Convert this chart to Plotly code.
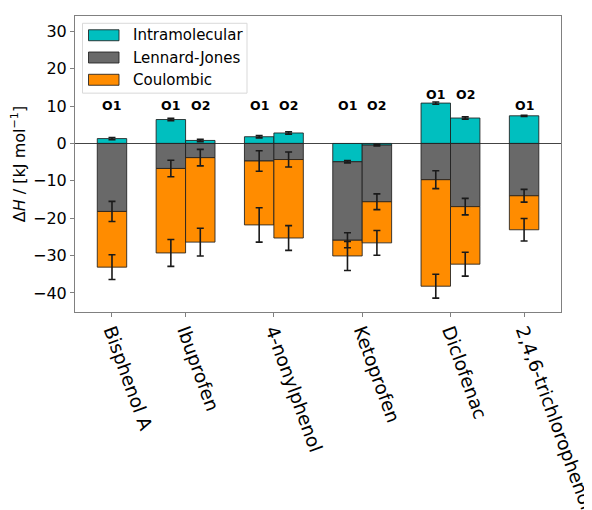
import plotly.graph_objects as go

# ---------------- data ----------------
compounds = ["Bisphenol A", "Ibuprofen", "4-nonylphenol", "Ketoprofen",
             "Diclofenac", "2,4,6-trichlorophenol"]
bar_compound = [0, 1, 1, 2, 2, 3, 3, 4, 4, 5]
bar_site = ["O1", "O1", "O2", "O1", "O2", "O1", "O2", "O1", "O2", "O1"]
series_names = ["Intramolecular", "Lennard-Jones", "Coulombic"]

intra = [1.3, 6.4, 0.8, 1.8, 2.8, -4.9, -0.45, 10.8, 6.8, 7.4]
intra_err = [0.3, 0.3, 0.3, 0.3, 0.3, 0.3, 0.2, 0.3, 0.3, 0.15]
lj = [-18.2, -6.7, -3.8, -4.7, -4.3, -21.0, -15.15, -9.7, -16.9, -14.0]
lj_err = [2.7, 2.2, 2.2, 2.75, 2.0, 2.0, 2.1, 2.4, 2.2, 1.7]
coul = [-14.9, -22.6, -22.6, -17.1, -21.0, -4.2, -11.0, -28.5, -15.4, -9.1]
coul_err = [3.3, 3.6, 3.7, 4.6, 3.3, 3.9, 3.3, 3.2, 3.2, 3.0]

# ---------------- layout helpers ----------------
W = 1 / 3  # bar width
group_shift = [1, 0, 0, 0, 0, 0]  # slot shift per compound (layout)
slot = {"O1": 0, "O2": 1}
xpos = [bar_compound[i] + (slot[bar_site[i]] + group_shift[bar_compound[i]]) * W
        for i in range(len(bar_site))]
tickpos = []
for c in range(len(compounds)):
    xs = [xpos[i] for i in range(len(xpos)) if bar_compound[i] == c]
    tickpos.append(sum(xs) / len(xs))

colors = ["#00BFBF", "#696969", "#FF8C00"]
FONT = "DejaVu Sans"
EDGE = "rgba(30,30,30,0.85)"

lj_base = [min(v, 0) for v in intra]
lj_end = [b + v for b, v in zip(lj_base, lj)]
coul_end = [b + v for b, v in zip(lj_end, coul)]

fig = go.Figure()
common = dict(width=W, marker_line_color=EDGE, marker_line_width=1, showlegend=False)
fig.add_trace(go.Bar(x=xpos, y=intra, base=[0] * len(intra), name=series_names[0],
                     marker_color=colors[0], **common))
fig.add_trace(go.Bar(x=xpos, y=lj, base=lj_base, name=series_names[1],
                     marker_color=colors[1], **common))
fig.add_trace(go.Bar(x=xpos, y=coul, base=lj_end, name=series_names[2],
                     marker_color=colors[2], **common))

err_style = dict(type="data", visible=True, color="#1a1a1a", thickness=1.6, width=3.5)
for yy, ee in ((intra, intra_err), (lj_end, lj_err), (coul_end, coul_err)):
    fig.add_trace(go.Scatter(x=xpos, y=yy, mode="markers",
                             marker=dict(size=1, color="rgba(0,0,0,0)"),
                             error_y=dict(array=ee, **err_style),
                             showlegend=False, hoverinfo="skip"))

# O1 / O2 labels
group_top = {}
for i, c in enumerate(bar_compound):
    group_top[c] = max(group_top.get(c, -1e9), intra[i])
for i, c in enumerate(bar_compound):
    fig.add_annotation(x=xpos[i], y=max(10.2, group_top[c] + 2.35),
                       text="<b>" + bar_site[i] + "</b>",
                       showarrow=False, font=dict(family=FONT, size=12.5, color="black"),
                       xanchor="center", yanchor="middle")

# ---------------- custom legend (matplotlib-like) ----------------
L, T, PW, PH = 75, 15.7, 486, 296.6  # plot area in page px (page has 8px body margin)


def px(xp):
    return (xp - L) / PW


def py(yp):
    return (T + PH - yp) / PH


fig.add_shape(type="rect", xref="paper", yref="paper",
              x0=px(82.5), x1=px(247), y0=py(23), y1=py(93),
              line=dict(color="#d9d9d9", width=1), fillcolor="rgba(255,255,255,0.8)",
              layer="above")
for k, name in enumerate(series_names):
    yc = 35 + k * 22.3
    fig.add_shape(type="rect", xref="paper", yref="paper",
                  x0=px(88.5), x1=px(119), y0=py(yc + 5.5), y1=py(yc - 5.5),
                  line=dict(color=EDGE, width=1), fillcolor=colors[k], layer="above")
    fig.add_annotation(xref="paper", yref="paper", x=px(131), y=py(yc), text=name,
                       showarrow=False, xanchor="left", yanchor="middle",
                       font=dict(family=FONT, size=15, color="black"))

fig.update_layout(
    width=592, height=510,
    margin=dict(l=67, r=39, t=7.7, b=205.7),
    paper_bgcolor="white", plot_bgcolor="white",
    barmode="overlay",
    font=dict(family=FONT, size=16, color="black"),
    showlegend=False,
    xaxis=dict(range=[-0.0855, 5.418], tickmode="array", tickvals=tickpos, ticktext=compounds,
               tickangle=70, showline=True, linecolor="#808080", linewidth=1, mirror=True,
               ticks="outside", ticklen=4, tickcolor="#808080", showgrid=False, zeroline=False,
               automargin=False, ticklabeloverflow="allow", ticklabelstandoff=-4,
               tickfont=dict(family=FONT, size=18.5)),
    yaxis=dict(range=[-45.1, 34.1], tickvals=[-40, -30, -20, -10, 0, 10, 20, 30],
               showline=True, linecolor="#808080", linewidth=1, mirror=True,
               ticks="outside", ticklen=4, tickcolor="#808080", showgrid=False,
               zeroline=True, zerolinecolor="#444444", zerolinewidth=1,
               automargin=False, tickfont=dict(family=FONT, size=16),
               title=dict(text="Δ<i>H</i> / [kJ mol<sup>−1</sup>]", standoff=6,
                          font=dict(family=FONT, size=16))),
)

fig.write_html("out.html")
